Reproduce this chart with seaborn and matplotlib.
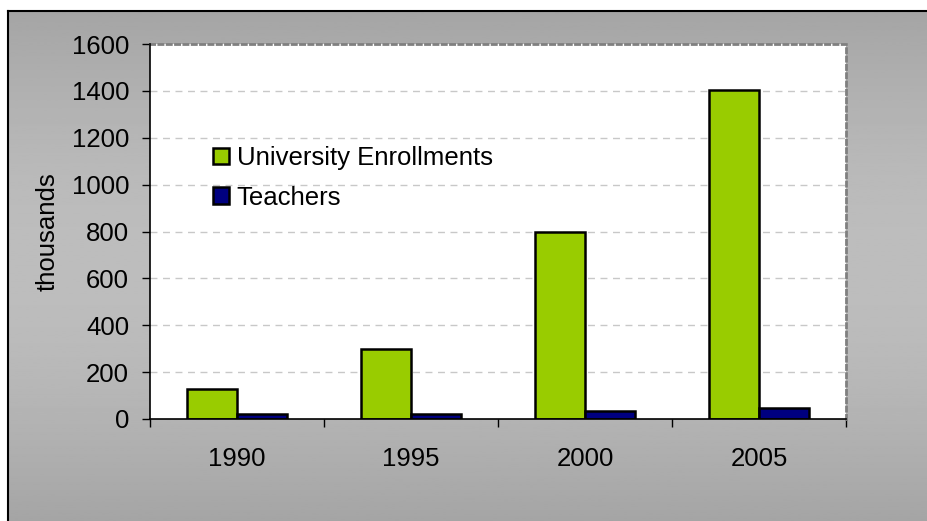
import numpy as np
import pandas as pd
import matplotlib
matplotlib.use('Agg')
import matplotlib.pyplot as plt
from matplotlib.ticker import FixedLocator
import seaborn as sns

# --- data ---
years = ['1990', '1995', '2000', '2005']
enrollments = [128, 298, 798, 1405]
teachers = [23, 23, 33, 48]
series_names = ['University Enrollments', 'Teachers']
y_ticks = [0, 200, 400, 600, 800, 1000, 1200, 1400, 1600]

df = pd.DataFrame({
    'year': years * 2,
    'value': enrollments + teachers,
    'series': [series_names[0]] * len(years) + [series_names[1]] * len(years),
})

sns.set_theme(style='white')
plt.rcParams['font.family'] = ['Liberation Sans', 'DejaVu Sans']
plt.rcParams['text.color'] = 'black'
plt.rcParams['axes.labelcolor'] = 'black'
plt.rcParams['xtick.color'] = 'black'
plt.rcParams['ytick.color'] = 'black'

W, H = 928, 521
fig = plt.figure(figsize=(W / 100, H / 100), dpi=100)
fig.patch.set_facecolor('white')

# gray chart-area background with vertical gradient
bg = fig.add_axes([8 / W, 0, 1, 510 / H], zorder=-5)
t = np.linspace(0, 1, 256)
shade = 0.647 + (0.741 - 0.647) * np.sin(np.pi * t)
bg.imshow(shade[:, None], cmap='gray', vmin=0, vmax=1, aspect='auto',
          extent=[0, 1, 0, 1])
bg.set_xticks([])
bg.set_yticks([])
for side in ['right', 'bottom']:
    bg.spines[side].set_visible(False)
for side in ['left', 'top']:
    bg.spines[side].set_color('black')
    bg.spines[side].set_linewidth(1.5)

# plot area
ax = fig.add_axes([150 / W, 1 - 419 / H, 696 / W, 375 / H])
ax.set_facecolor('white')

palette = {series_names[0]: '#99cc00', series_names[1]: '#000080'}
sns.barplot(data=df, x='year', y='value', hue='series', palette=palette,
            width=0.575, edgecolor='black', linewidth=1.8, saturation=1,
            ax=ax, zorder=3)

ax.set_xlim(-0.5, len(years) - 0.5)
ax.set_ylim(0, 1600)
ax.set_yticks(y_ticks)
ax.set_yticklabels([str(v) for v in y_ticks])
ax.xaxis.set_minor_locator(FixedLocator(np.arange(-0.5, len(years), 1.0)))

ax.tick_params(axis='y', which='major', direction='out', length=6, width=1,
               labelsize=18.5, pad=9, left=True)
ax.tick_params(axis='x', which='major', length=0, labelsize=18.5, pad=20)
ax.tick_params(axis='x', which='minor', direction='out', length=6, width=1,
               bottom=True)

for v in y_ticks[1:-1]:
    ax.axhline(v, color='#c8c8c8', linewidth=1, linestyle=(0, (5, 4)), zorder=1)

for side in ['left', 'bottom']:
    ax.spines[side].set_color('black')
    ax.spines[side].set_linewidth(1.2)
    ax.spines[side].set_zorder(4)
for side in ['top', 'right']:
    ax.spines[side].set_color('#808080')
    ax.spines[side].set_linewidth(2)
    ax.spines[side].set_linestyle((0, (1.5, 1.5)))

ax.set_xlabel('')
ax.set_ylabel('thousands', fontsize=18.5, labelpad=9)

handles, labels = ax.get_legend_handles_labels()
ax.legend(handles, labels, loc='upper left', bbox_to_anchor=(0.076, 0.755),
          frameon=False, fontsize=18.5, handlelength=0.62, handleheight=0.62,
          handletextpad=0.3, labelspacing=0.6, borderaxespad=0)

fig.savefig('out.png', dpi=100)
